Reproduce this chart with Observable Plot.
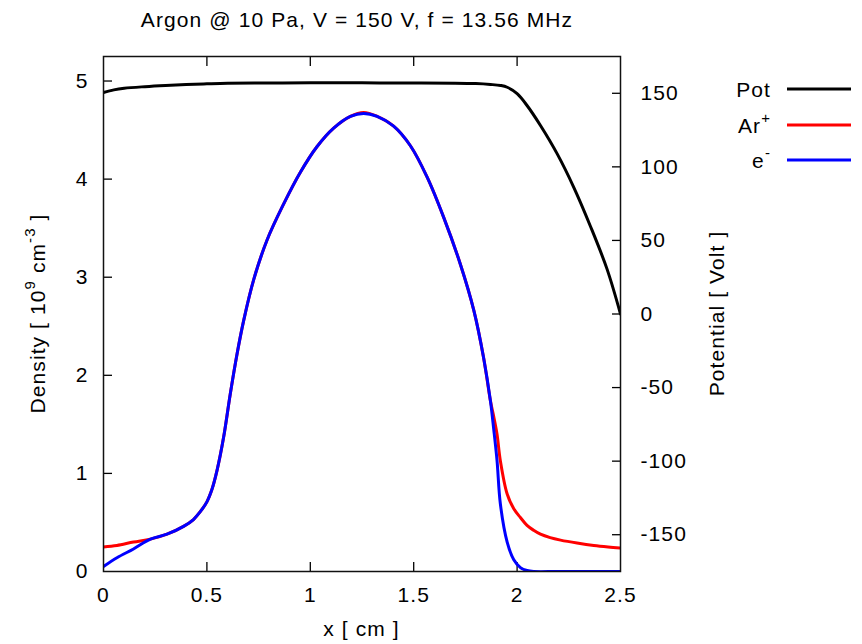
<!DOCTYPE html>
<html>
<head>
<meta charset="utf-8">
<script src="https://cdn.jsdelivr.net/npm/d3@7"></script>
<script src="https://cdn.jsdelivr.net/npm/@observablehq/plot@0.6"></script>
<style>
  html, body { margin: 0; padding: 0; background: #fff; }
  #chart { width: 862px; height: 644px; }
</style>
</head>
<body>
<div id="chart"></div>
<script>
// ---- data ----
const xPot = [0, 0.05, 0.1, 0.2, 0.3, 0.4, 0.5, 0.6, 0.8, 1.0, 1.25, 1.5, 1.7, 1.8, 1.871, 1.92, 1.952, 2.0, 2.048, 2.113, 2.194, 2.274, 2.355, 2.435, 2.5];
const potV = [150.5, 152.3, 153.4, 154.5, 155.3, 155.9, 156.4, 156.8, 157.0, 157.1, 157.1, 157.0, 156.9, 156.6, 156.0, 155.3, 154.1, 149.7, 141.7, 128.1, 108.8, 86.1, 59.5, 30.5, 0];

const xIon = [0, 0.065, 0.145, 0.227, 0.307, 0.387, 0.435, 0.468, 0.5, 0.525, 0.549, 0.581, 0.613, 0.646, 0.678, 0.727, 0.791, 0.872, 0.952, 1.032, 1.113, 1.194, 1.258, 1.323, 1.403, 1.484, 1.565, 1.645, 1.726, 1.791, 1.838, 1.871, 1.887, 1.903, 1.919, 1.952, 1.984, 2.016, 2.048, 2.08, 2.113, 2.16, 2.21, 2.29, 2.371, 2.44, 2.5];
const ionDensity = [0.25, 0.265, 0.30, 0.33, 0.38, 0.46, 0.53, 0.61, 0.71, 0.84, 1.03, 1.37, 1.81, 2.22, 2.56, 2.98, 3.38, 3.75, 4.07, 4.33, 4.52, 4.64, 4.68, 4.64, 4.54, 4.34, 4.02, 3.61, 3.13, 2.66, 2.18, 1.74, 1.58, 1.40, 1.13, 0.79, 0.64, 0.55, 0.47, 0.42, 0.38, 0.345, 0.32, 0.29, 0.265, 0.25, 0.24];

const xEl = [0, 0.065, 0.145, 0.227, 0.307, 0.387, 0.435, 0.468, 0.5, 0.525, 0.549, 0.581, 0.613, 0.646, 0.678, 0.727, 0.791, 0.872, 0.952, 1.032, 1.113, 1.194, 1.258, 1.323, 1.403, 1.484, 1.565, 1.645, 1.726, 1.791, 1.838, 1.871, 1.887, 1.903, 1.919, 1.952, 1.984, 2.016, 2.048, 2.08, 2.2, 2.5];
const elDensity = [0.05, 0.14, 0.23, 0.33, 0.38, 0.46, 0.53, 0.61, 0.71, 0.84, 1.03, 1.37, 1.81, 2.22, 2.56, 2.98, 3.38, 3.75, 4.07, 4.33, 4.52, 4.64, 4.67, 4.64, 4.54, 4.34, 4.02, 3.61, 3.13, 2.66, 2.18, 1.74, 1.45, 1.13, 0.69, 0.30, 0.12, 0.04, 0.01, 0, 0, 0];

const xTicks = [0, 0.5, 1, 1.5, 2, 2.5];
const yTicks = [0, 1, 2, 3, 4, 5];
const y2Ticks = [-150, -100, -50, 0, 50, 100, 150];
const xDomain = [0, 2.5];
const yDomain = [0, 5.25];
const y2Domain = [-175, 175];

const legendLabels = [["Pot", ""], ["Ar", "+"], ["e", "-"]];
const legendColors = ["#000000", "#ff0000", "#0000ff"];

// ---- potential (right axis) mapped into the density scale ----
const toY = v => (v - y2Domain[0]) / (y2Domain[1] - y2Domain[0]) * (yDomain[1] - yDomain[0]) + yDomain[0];
const fromY = d => (d - yDomain[0]) / (yDomain[1] - yDomain[0]) * (y2Domain[1] - y2Domain[0]) + y2Domain[0];

const potData = xPot.map((x, i) => ({x, y: toY(potV[i])}));
const ionData = xIon.map((x, i) => ({x, y: ionDensity[i]}));
const elData = xEl.map((x, i) => ({x, y: elDensity[i]}));

const FONT = "'Liberation Sans', Arial, Helvetica, sans-serif";

const chart = Plot.plot({
  width: 862,
  height: 644,
  marginLeft: 103,
  marginRight: 242,
  marginTop: 56,
  marginBottom: 73,
  style: {fontFamily: FONT, fontSize: "21px", letterSpacing: "1.1px", color: "#000", background: "#fff", overflow: "visible"},
  x: {domain: xDomain},
  y: {domain: yDomain},
  marks: [
    // tick labels
    Plot.axisX(xTicks, {anchor: "bottom", tickSize: 0, tickPadding: 16, tickFormat: d => String(d), label: null}),
    Plot.axisY(yTicks, {anchor: "left", tickSize: 0, tickPadding: 15, tickFormat: d => String(d), label: null}),
    Plot.axisY(y2Ticks.map(toY), {anchor: "right", tickSize: 0, tickPadding: 20, tickFormat: d => String(Math.round(fromY(d))), label: null}),
    // inward ticks
    Plot.axisX(xTicks.slice(1, -1), {anchor: "bottom", tickSize: 9, dy: -9, fill: "none", label: null, strokeWidth: 1.3}),
    Plot.axisX(xTicks.slice(1, -1), {anchor: "top", tickSize: 9, dy: 9, fill: "none", label: null, strokeWidth: 1.3}),
    Plot.axisY(yTicks.slice(1), {anchor: "left", tickSize: 9, dx: 9, fill: "none", label: null, strokeWidth: 1.3}),
    Plot.axisY(y2Ticks.map(toY), {anchor: "right", tickSize: 9, dx: -9, fill: "none", label: null, strokeWidth: 1.3}),
    // curves
    Plot.line(potData, {x: "x", y: "y", stroke: legendColors[0], strokeWidth: 3, curve: "catmull-rom", clip: true}),
    Plot.line(ionData, {x: "x", y: "y", stroke: legendColors[1], strokeWidth: 3, curve: "catmull-rom", clip: true}),
    Plot.line(elData, {x: "x", y: "y", stroke: legendColors[2], strokeWidth: 3, curve: "catmull-rom", clip: true}),
    Plot.frame({stroke: "#111", strokeWidth: 1.5})
  ]
});

document.getElementById("chart").appendChild(chart);

// ---- titles, axis labels, legend as real SVG text ----
const svg = d3.select(chart);
const g = svg.append("g").attr("fill", "#000").attr("font-family", FONT).attr("font-size", 21);

g.append("text").attr("x", 357).attr("y", 27).attr("text-anchor", "middle")
  .text("Argon @ 10 Pa, V = 150 V, f = 13.56 MHz");

g.append("text").attr("x", 361.5).attr("y", 636).attr("text-anchor", "middle")
  .text("x [ cm ]");

const yl = g.append("text").attr("transform", "translate(45,313.5) rotate(-90)").attr("text-anchor", "middle");
yl.append("tspan").text("Density [ 10");
yl.append("tspan").attr("dy", -10).attr("font-size", 15).text("9");
yl.append("tspan").attr("dy", 10).text(" cm");
yl.append("tspan").attr("dy", -10).attr("font-size", 15).text("-3");
yl.append("tspan").attr("dy", 10).text(" ]");

g.append("text").attr("transform", "translate(724,313.5) rotate(-90)").attr("text-anchor", "middle")
  .text("Potential [ Volt ]");

const legendY = [89, 125, 160];
legendLabels.forEach(([main, sup], i) => {
  const t = g.append("text").attr("x", 771).attr("y", legendY[i] + 8).attr("text-anchor", "end");
  t.append("tspan").text(main);
  if (sup) t.append("tspan").attr("dy", -10).attr("font-size", 15).text(sup);
  g.append("line").attr("x1", 787).attr("x2", 851).attr("y1", legendY[i]).attr("y2", legendY[i])
    .attr("stroke", legendColors[i]).attr("stroke-width", 3);
});
</script>
</body>
</html>
